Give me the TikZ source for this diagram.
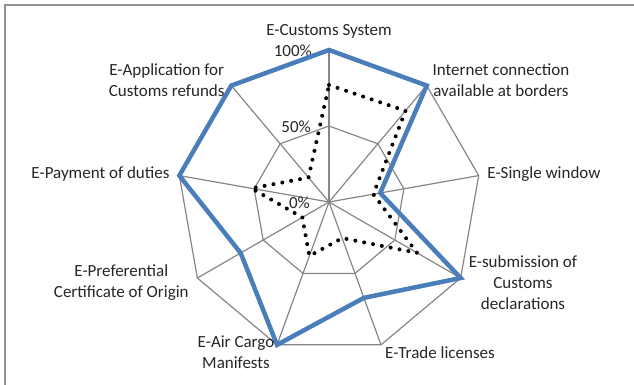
\documentclass[tikz,border=0pt]{standalone}
\usepackage{fontspec}
\setmainfont{Carlito}
\definecolor{serblue}{RGB}{74,126,187}
\definecolor{gridgray}{RGB}{134,134,134}
\tikzset{
  frameline/.style={draw=gridgray!90, line width=2pt},
  gridline/.style={draw=gridgray, line width=1.2pt},
  blueser/.style={draw=serblue, line width=4.5pt, line join=miter},
  dotser/.style={draw=black, line width=4pt, line cap=round, dash pattern=on 0pt off 9pt},
  lbl/.style={font=\fontsize{17}{21}\selectfont, align=center, inner sep=0pt, text=black!85},
  pct/.style={font=\fontsize{17}{21}\selectfont, anchor=east, inner sep=0pt, text=black!85}
}
\begin{document}
\begin{tikzpicture}[x=1pt,y=1pt]
\useasboundingbox (0,0) rectangle (634,-385);
\draw[frameline] (5,-385) -- (5,-5) -- (634,-5);
\begin{scope}[shift={(329,-202)}]
  % grid rings
  \draw[gridline] (90:152) \foreach \a in {50,10,-30,-70,-110,-150,-190,-230} { -- (\a:152) } -- cycle;
  \draw[gridline] (90:76) \foreach \a in {50,10,-30,-70,-110,-150,-190,-230} { -- (\a:76) } -- cycle;
  % spokes
  \foreach \a in {90,50,10,-30,-70,-110,-150,-190,-230} { \draw[gridline] (0,0) -- (\a:152); }
\end{scope}
% percentage labels
\node[pct] (l100) at (312,-50.5) {100\%};
\node[pct] (l50) at (311,-127) {50\%};
\node[pct] (l0) at (310,-203) {0\%};
\begin{scope}[shift={(329,-202)}]
  % dotted series
  \draw[dotser] (90:117) -- (50:119) -- (10:45) -- (-30:101.6) -- (-70:38.4) -- (-110:57.5) -- (-150:30.8) -- (-190:78.7) -- (-230:31.9) -- cycle;
  % blue series
  \draw[blueser] (90:152) -- (50:152) -- (10:52) -- (-30:152) -- (-70:102) -- (-110:152) -- (-150:102) -- (-190:152) -- (-230:152) -- cycle;
\end{scope}
% category labels
\node[lbl] (c1) at (329,-31.7) {E-Customs System};
\node[lbl] (c2) at (501,-80.5) {Internet connection\\available at borders};
\node[lbl] (c3) at (544,-174.3) {E-Single window};
\node[lbl] (c4) at (523,-282.5) {E-submission of\\Customs\\declarations};
\node[lbl] (c5) at (440,-352.3) {E-Trade licenses};
\node[lbl] (c6) at (236,-352.5) {E-Air Cargo\\Manifests};
\node[lbl] (c7) at (121.3,-282.2) {E-Preferential\\Certificate of Origin};
\node[lbl] (c8) at (100.5,-174.3) {E-Payment of duties};
\node[lbl] (c9) at (166.7,-80.5) {E-Application for\\Customs refunds};
\end{tikzpicture}
\end{document}
